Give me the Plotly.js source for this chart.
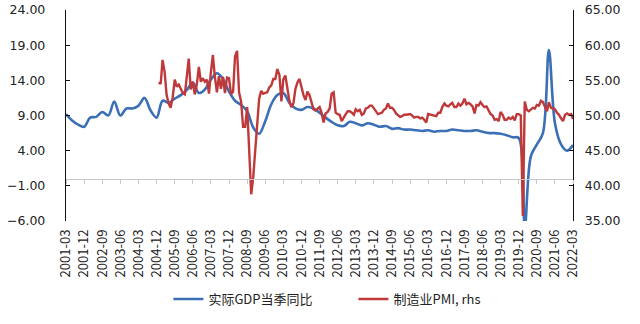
<!DOCTYPE html>
<html>
<head>
<meta charset="utf-8">
<script src="https://cdn.plot.ly/plotly-3.0.1.min.js"></script>
<style>
html,body{margin:0;padding:0;background:#fff;}
#chart{width:640px;height:324px;}
</style>
</head>
<body>
<div id="chart"></div>
<script>
// Quarterly categories (GDP)
const quarters = [
'2001-03','2001-06','2001-09','2001-12','2002-03','2002-06','2002-09','2002-12',
'2003-03','2003-06','2003-09','2003-12','2004-03','2004-06','2004-09','2004-12',
'2005-03','2005-06','2005-09','2005-12','2006-03','2006-06','2006-09','2006-12',
'2007-03','2007-06','2007-09','2007-12','2008-03','2008-06','2008-09','2008-12',
'2009-03','2009-06','2009-09','2009-12','2010-03','2010-06','2010-09','2010-12',
'2011-03','2011-06','2011-09','2011-12','2012-03','2012-06','2012-09','2012-12',
'2013-03','2013-06','2013-09','2013-12','2014-03','2014-06','2014-09','2014-12',
'2015-03','2015-06','2015-09','2015-12','2016-03','2016-06','2016-09','2016-12',
'2017-03','2017-06','2017-09','2017-12','2018-03','2018-06','2018-09','2018-12',
'2019-03','2019-06','2019-09','2019-12','2020-03','2020-06','2020-09','2020-12',
'2021-03','2021-06','2021-09','2021-12','2022-03'];

// 实际GDP当季同比 (%)
const gdp = [
9.2, 8.3, 7.7, 7.4,
8.7, 8.8, 9.5, 9.0,
11.0, 9.0, 10.0, 10.0,
10.4, 11.5, 9.7, 8.7,
11.1, 10.8, 11.4, 11.9,
12.6, 13.7, 12.2, 12.7,
14.1, 15.0, 14.2, 12.4,
11.1, 10.5, 9.6, 7.3,
6.4, 8.2, 10.6, 11.9,
12.2, 10.8, 10.0, 9.8,
10.2, 10.0, 9.4, 8.7,
8.1, 7.6, 7.5, 8.1,
7.9, 7.6, 7.9, 7.7,
7.4, 7.5, 7.1, 7.2,
7.0, 7.0, 6.9, 6.8,
6.9, 6.7, 6.8, 6.8,
7.0, 6.9, 6.8, 6.8,
6.9, 6.7, 6.5, 6.5,
6.4, 6.2, 5.9, 5.8,
-6.8, 3.2, 4.9, 6.5,
18.3, 7.9, 4.9, 4.0,
4.8];

// 制造业PMI monthly, from 2005-01
const pmiStartYear = 2005;
const pmi = [
54.7, 54.5, 57.9, 56.2, 52.9, 51.7, 51.1, 52.6, 55.1, 54.1, 54.4, 53.9,
53.2, 53.0, 55.1, 58.1, 53.7, 54.8, 53.0, 54.4, 56.9, 54.8, 55.3, 54.8,
55.1, 53.1, 56.1, 58.6, 55.5, 53.3, 55.6, 53.8, 55.5, 53.2, 55.4, 55.3,
53.0, 53.4, 58.4, 59.2, 53.3, 52.0, 48.4, 48.4, 51.2, 44.6, 38.8, 41.2,
45.3, 49.0, 52.4, 53.5, 53.1, 53.2, 53.3, 54.0, 54.3, 55.2, 55.2, 56.6,
55.8, 52.0, 55.1, 55.7, 53.9, 52.1, 51.2, 51.7, 53.8, 54.7, 55.2, 53.9,
52.9, 52.2, 53.4, 52.9, 52.0, 50.9, 50.7, 50.9, 51.2, 50.4, 49.0, 50.3,
50.5, 51.0, 53.1, 53.3, 50.4, 50.2, 50.1, 49.2, 49.8, 50.2, 50.6, 50.6,
50.4, 50.1, 50.9, 50.6, 50.8, 50.1, 50.3, 51.0, 51.1, 51.4, 51.4, 51.0,
50.5, 50.2, 50.3, 50.4, 50.8, 51.0, 51.7, 51.1, 51.1, 50.8, 50.3, 50.1,
49.8, 49.9, 50.1, 50.1, 50.2, 50.2, 50.0, 49.7, 49.8, 49.8, 49.6, 49.7,
49.4, 49.0, 50.2, 50.1, 50.1, 50.0, 49.9, 50.4, 50.4, 51.2, 51.7, 51.4,
51.3, 51.6, 51.8, 51.2, 51.2, 51.7, 51.4, 51.7, 52.4, 51.6, 51.8, 51.6,
51.3, 50.3, 51.5, 51.4, 51.9, 51.5, 51.2, 51.3, 50.8, 50.2, 50.0, 49.4,
49.5, 49.2, 50.5, 50.1, 49.4, 49.4, 49.7, 49.5, 49.8, 49.3, 50.2, 50.2,
50.0, 35.7, 52.0, 50.8, 50.6, 50.9, 51.1, 51.0, 51.5, 51.4, 52.1, 51.9,
51.3, 50.6, 51.9, 51.1, 51.0, 50.9, 50.4, 50.1, 49.6, 49.2, 50.1, 50.3,
50.1, 50.2, 49.5];

// Tick labels on the category axis
const tickLabels = [
'2001-03','2001-12','2002-09','2003-06','2004-03','2004-12','2005-09','2006-06',
'2007-03','2007-12','2008-09','2009-06','2010-03','2010-12','2011-09','2012-06',
'2013-03','2013-12','2014-09','2015-06','2016-03','2016-12','2017-09','2018-06',
'2019-03','2019-12','2020-09','2021-06','2022-03'];

const seriesNames = ['实际GDP当季同比', '制造业PMI, rhs'];

// month labels for the PMI series
const pmiMonths = pmi.map((_, i) => {
  const y = pmiStartYear + Math.floor(i / 12);
  const m = (i % 12) + 1;
  return y + '-' + (m < 10 ? '0' + m : '' + m);
});

const FONT = '"Noto Sans CJK SC", "Noto Sans", sans-serif';
const NUMFONT = '"DejaVu Sans", "Noto Sans", sans-serif';
const BLUE = '#3b6fb6';
const RED = '#c0393a';

const traces = [
  {x: quarters, y: gdp, type: 'scatter', mode: 'lines', name: seriesNames[0],
   line: {color: BLUE, width: 2.6, shape: 'spline', smoothing: 1}, xaxis: 'x', yaxis: 'y'},
  {x: pmiMonths, y: pmi, type: 'scatter', mode: 'lines', name: seriesNames[1],
   line: {color: RED, width: 2.4}, xaxis: 'x', yaxis: 'y2'},
  {x: quarters, y: gdp, type: 'scatter', mode: 'lines', showlegend: false, hoverinfo: 'skip',
   line: {color: 'rgba(0,0,0,0)', width: 0}, xaxis: 'x2', yaxis: 'y'}
];

const xr = [quarters[0], quarters[quarters.length - 1]];
const layout = {
  width: 640, height: 324,
  margin: {l: 66, r: 67, t: 10, b: 101},
  paper_bgcolor: '#fff', plot_bgcolor: '#fff',
  font: {family: FONT, size: 13, color: '#222'},
  showlegend: true,
  xaxis: {
    type: 'date', range: xr, tickmode: 'array', tickvals: tickLabels, ticktext: tickLabels,
    tickangle: -90, showgrid: false, zeroline: false, showline: false, ticks: '',
    ticklabelstandoff: 5, tickfont: {family: FONT, size: 13, color: '#222'}, automargin: false
  },
  xaxis2: {
    type: 'date', range: xr, overlaying: 'x', anchor: 'free', position: 0.2,
    tickmode: 'array', tickvals: tickLabels, showticklabels: false,
    showline: true, linecolor: '#c8c8c8', linewidth: 1, ticks: 'outside', ticklen: 4,
    tickcolor: '#c8c8c8', showgrid: false, zeroline: false
  },
  yaxis: {
    range: [-6, 24], tickmode: 'linear', tick0: -6, dtick: 5, tickformat: '.2f',
    showline: true, linecolor: '#111', linewidth: 1.2, ticks: 'inside', ticklen: 4, tickcolor: '#111',
    showgrid: false, zeroline: false, ticklabelstandoff: 17, ticklabeloverflow: 'allow',
    tickfont: {family: NUMFONT, size: 12.5, color: '#222'}, automargin: false
  },
  yaxis2: {
    range: [35, 65], overlaying: 'y', side: 'right', tickmode: 'linear', tick0: 35, dtick: 5,
    tickformat: '.2f', showline: true, linecolor: '#111', linewidth: 1.2, ticks: 'inside', ticklen: 4,
    tickcolor: '#111', showgrid: false, zeroline: false, ticklabelstandoff: 8, ticklabeloverflow: 'allow',
    tickfont: {family: NUMFONT, size: 12.5, color: '#222'}, automargin: false
  },
  legend: {
    orientation: 'h', x: 0.202, xanchor: 'left', y: -0.37, yanchor: 'middle',
    font: {family: FONT, size: 13, color: '#222'}, bgcolor: 'rgba(0,0,0,0)',
    entrywidth: 140, entrywidthmode: 'pixels', itemwidth: 30
  }
};

Plotly.newPlot('chart', traces, layout, {displayModeBar: false, staticPlot: true});
</script>
</body>
</html>
